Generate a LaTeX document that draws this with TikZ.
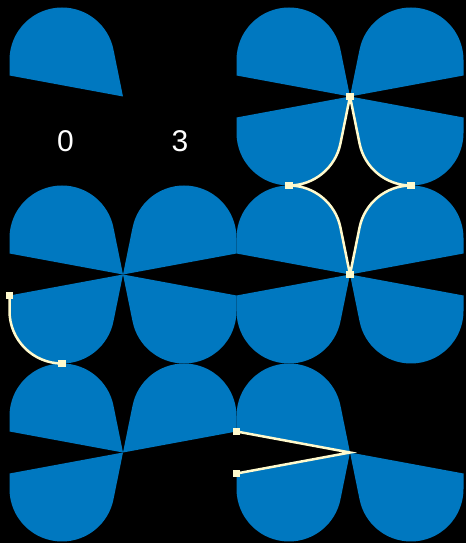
\documentclass[tikz,border=0pt]{standalone}
\usepackage{fontspec}
\setmainfont{Liberation Sans}
\definecolor{petalblue}{RGB}{0,120,192}
\definecolor{wireyellow}{RGB}{255,250,205}

\begin{document}
\begin{tikzpicture}[x=1pt, y=1pt,
    petal/.pic={\fill[petalblue] (0,0) -- (-113.5,21) -- (-113.5,36.5) arc[start angle=180, end angle=11.5, radius=52.5] -- cycle;},
    wire/.style={draw=wireyellow, line width=2.5pt},
    handle/.style={fill=wireyellow, minimum size=7.5pt, inner sep=0pt},
    digit/.style={text=white, font=\fontsize{30}{36}\selectfont}]

            % Draw the background
            \fill[black] (0,0) rectangle (466,543);
            \useasboundingbox (0,0) rectangle (466,543);

            % Draw the single petal
            \pic at (123,446.5) {petal};

            \node[digit] (zero) at (65.5,402) {0};
            \node[digit] (three) at (180,402) {3};

            % Draw the petals of the first row
            \pic at (350,446.5) {petal};
            \pic[xscale=-1] at (350,446.5) {petal};
            \pic[yscale=-1] at (350,446.5) {petal};
            \pic[xscale=-1, yscale=-1] at (350,446.5) {petal};

            % Draw the petals of the second row
            \pic at (123,268.5) {petal};
            \pic[xscale=-1] at (123,268.5) {petal};
            \pic[yscale=-1] at (123,268.5) {petal};
            \pic[xscale=-1, yscale=-1] at (123,268.5) {petal};

            \pic at (350,268.5) {petal};
            \pic[xscale=-1] at (350,268.5) {petal};
            \pic[yscale=-1] at (350,268.5) {petal};
            \pic[xscale=-1, yscale=-1] at (350,268.5) {petal};

            % Draw the petals of the third row
            \pic at (123,90.5) {petal};
            \pic[xscale=-1] at (123,90.5) {petal};
            \pic[yscale=-1] at (123,90.5) {petal};

            \pic at (350,90.5) {petal};
            \pic[yscale=-1] at (350,90.5) {petal};
            \pic[xscale=-1, yscale=-1] at (350,90.5) {petal};

            % Points of the wires
            \coordinate (c1) at (350,446.5);
            \coordinate (c2) at (289,357.5);
            \coordinate (c3) at (411,357.5);
            \coordinate (c4) at (350,268.5);
            \coordinate (c5) at (9.5,247.5);
            \coordinate (c6) at (62,179.5);
            \coordinate (c7) at (236.5,111.5);
            \coordinate (c8) at (236.5,69.5);
            \coordinate (v) at (350,90.5);

            % Draw the star between the petals
            \draw[wire] (c1) -- ++(-9.55,-46.97) arc[start angle=-11.5, end angle=-90, radius=52.5] arc[start angle=90, end angle=11.5, radius=52.5] -- (c4);
            \draw[wire] (c1) -- ++(9.55,-46.97) arc[start angle=191.5, end angle=270, radius=52.5] arc[start angle=90, end angle=168.5, radius=52.5] -- (c4);

            % Draw the arc and the wedge
            \draw[wire] (c5) -- ++(0,-15.5) arc[start angle=180, end angle=270, radius=52.5];
            \draw[wire] (c7) -- (v) -- (c8);

            % Draw the handles
            \node[handle] (h1) at (c1) {};
            \node[handle] (h2) at (c2) {};
            \node[handle] (h3) at (c3) {};
            \node[handle] (h4) at (c4) {};
            \node[handle] (h5) at (c5) {};
            \node[handle] (h6) at (c6) {};
            \node[handle] (h7) at (c7) {};
            \node[handle] (h8) at (c8) {};

\end{tikzpicture}
\end{document}
